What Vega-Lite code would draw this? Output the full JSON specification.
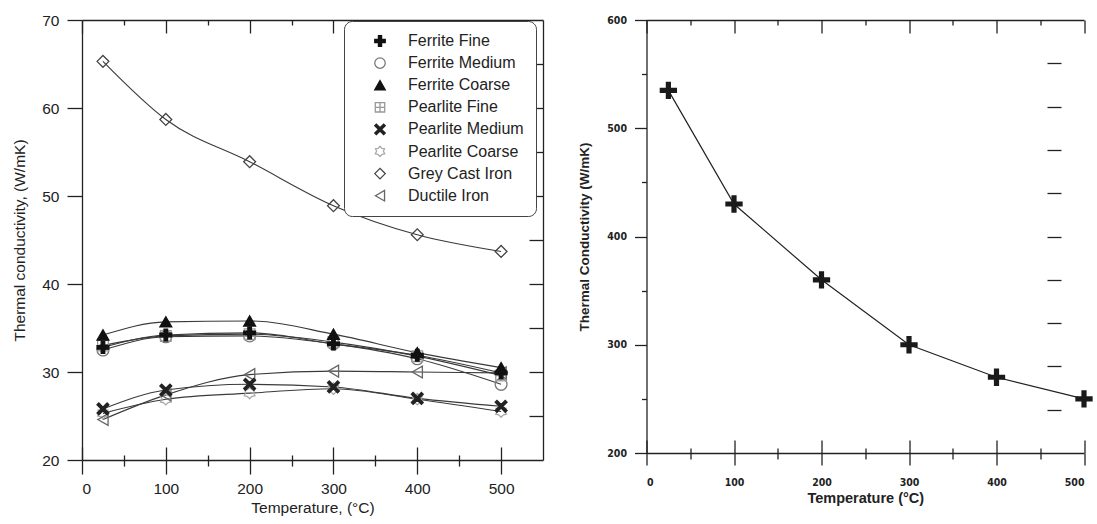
{
  "$schema": "https://vega.github.io/schema/vega-lite/v6.json",
  "padding": {"left": 12, "top": 13, "right": 0, "bottom": 0},
  "spacing": 32.5,
  "background": "white",
  "config": {
    "view": {"stroke": null},
    "font": "Liberation Sans",
    "axis": {"grid": false, "domainColor": "#222", "tickColor": "#222", "labelColor": "#222", "titleColor": "#222", "domainWidth": 1.3, "tickWidth": 1.3}
  },
  "hconcat": [
    {
      "width": 461,
      "height": 440,
      "data": {"values": [
        {"series": "Ferrite Fine", "t": 25, "k": 32.8}, {"series": "Ferrite Fine", "t": 100, "k": 34.2}, {"series": "Ferrite Fine", "t": 200, "k": 34.45}, {"series": "Ferrite Fine", "t": 300, "k": 33.2}, {"series": "Ferrite Fine", "t": 400, "k": 31.9}, {"series": "Ferrite Fine", "t": 500, "k": 29.9},
        {"series": "Ferrite Medium", "t": 25, "k": 32.5}, {"series": "Ferrite Medium", "t": 100, "k": 34.0}, {"series": "Ferrite Medium", "t": 200, "k": 34.1}, {"series": "Ferrite Medium", "t": 300, "k": 33.2}, {"series": "Ferrite Medium", "t": 400, "k": 31.5}, {"series": "Ferrite Medium", "t": 500, "k": 28.6},
        {"series": "Ferrite Coarse", "t": 25, "k": 34.2}, {"series": "Ferrite Coarse", "t": 100, "k": 35.7}, {"series": "Ferrite Coarse", "t": 200, "k": 35.8}, {"series": "Ferrite Coarse", "t": 300, "k": 34.3}, {"series": "Ferrite Coarse", "t": 400, "k": 32.2}, {"series": "Ferrite Coarse", "t": 500, "k": 30.5},
        {"series": "Pearlite Fine", "t": 25, "k": 33.0}, {"series": "Pearlite Fine", "t": 100, "k": 34.1}, {"series": "Pearlite Fine", "t": 200, "k": 34.3}, {"series": "Pearlite Fine", "t": 300, "k": 33.4}, {"series": "Pearlite Fine", "t": 400, "k": 31.8}, {"series": "Pearlite Fine", "t": 500, "k": 29.6},
        {"series": "Pearlite Medium", "t": 25, "k": 25.8}, {"series": "Pearlite Medium", "t": 100, "k": 27.95}, {"series": "Pearlite Medium", "t": 200, "k": 28.6}, {"series": "Pearlite Medium", "t": 300, "k": 28.3}, {"series": "Pearlite Medium", "t": 400, "k": 27.0}, {"series": "Pearlite Medium", "t": 500, "k": 26.1},
        {"series": "Pearlite Coarse", "t": 25, "k": 25.3}, {"series": "Pearlite Coarse", "t": 100, "k": 26.9}, {"series": "Pearlite Coarse", "t": 200, "k": 27.6}, {"series": "Pearlite Coarse", "t": 300, "k": 28.1}, {"series": "Pearlite Coarse", "t": 400, "k": 26.9}, {"series": "Pearlite Coarse", "t": 500, "k": 25.5},
        {"series": "Grey Cast Iron", "t": 25, "k": 65.3}, {"series": "Grey Cast Iron", "t": 100, "k": 58.7}, {"series": "Grey Cast Iron", "t": 200, "k": 53.9}, {"series": "Grey Cast Iron", "t": 300, "k": 48.9}, {"series": "Grey Cast Iron", "t": 400, "k": 45.6}, {"series": "Grey Cast Iron", "t": 500, "k": 43.7},
        {"series": "Ductile Iron", "t": 25, "k": 24.6}, {"series": "Ductile Iron", "t": 100, "k": 27.4}, {"series": "Ductile Iron", "t": 200, "k": 29.7}, {"series": "Ductile Iron", "t": 300, "k": 30.1}, {"series": "Ductile Iron", "t": 400, "k": 30.0}, {"series": "Ductile Iron", "t": 500, "k": 29.9}
      ]},
      "layer": [
        {
          "transform": [{"filter": {"field": "series", "oneOf": ["Ferrite Fine", "Ferrite Medium", "Ferrite Coarse", "Pearlite Fine", "Grey Cast Iron"]}}],
          "mark": {"type": "line", "interpolate": "monotone", "color": "#3a3a3a", "strokeWidth": 1.1},
          "encoding": {
            "x": {"field": "t", "type": "quantitative",
              "scale": {"domain": [0, 550], "nice": false, "zero": false},
              "axis": {"orient": "bottom", "values": [0, 100, 200, 300, 400, 500], "tickSize": 14,
                "grid": true, "gridColor": "#222", "gridWidth": 1.3, "gridOpacity": 1, "gridDash": [13, 427], "gridDashOffset": 13,
                "labelFontSize": 15.5, "labelPadding": 7, "title": "Temperature, (°C)", "titleFontSize": 15.5, "titleFontWeight": "normal", "titlePadding": 4}},
            "y": {"field": "k", "type": "quantitative",
              "scale": {"domain": [20, 70], "nice": false, "zero": false},
              "axis": {"orient": "left", "values": [20, 30, 40, 50, 60, 70], "tickSize": 15, "labelPadding": 8,
                "labelFontSize": 15.5, "title": "Thermal conductivity, (W/mK)", "titleFontSize": 15.5, "titleFontWeight": "normal", "titlePadding": 14}},
            "detail": {"field": "series"}
          }
        },
        {
          "transform": [{"filter": {"field": "series", "oneOf": ["Pearlite Medium", "Pearlite Coarse", "Ductile Iron"]}}],
          "mark": {"type": "line", "interpolate": "monotone", "color": "#3a3a3a", "strokeWidth": 1.1},
          "encoding": {
            "x": {"field": "t", "type": "quantitative",
              "axis": {"orient": "bottom", "values": [50, 150, 250, 350, 450], "tickSize": 6, "labels": false, "domain": false, "title": null,
                "grid": true, "gridColor": "#222", "gridWidth": 1.3, "gridOpacity": 1, "gridDash": [5, 435], "gridDashOffset": 5}},
            "y": {"field": "k", "type": "quantitative",
              "axis": {"orient": "right", "values": [25, 30, 35, 40, 45, 50, 55, 60, 65], "labels": false, "title": null, "tickSize": -14}},
            "detail": {"field": "series"}
          }
        },
        {
          "transform": [{"filter": {"field": "series", "oneOf": ["Ferrite Medium", "Pearlite Fine", "Pearlite Coarse", "Grey Cast Iron", "Ductile Iron"]}}],
          "mark": {"type": "point", "opacity": 1, "size": 140, "strokeWidth": 1.3},
          "encoding": {
            "x": {"field": "t", "type": "quantitative",
              "axis": {"orient": "bottom", "offset": -440, "values": [0, 100, 200, 300, 400, 500], "labels": false, "title": null, "tickSize": 13}},
            "y": {"field": "k", "type": "quantitative", "axis": null},
            "shape": {"field": "series", "type": "nominal",
              "scale": {
                "domain": ["Ferrite Fine", "Ferrite Medium", "Ferrite Coarse", "Pearlite Fine", "Pearlite Medium", "Pearlite Coarse", "Grey Cast Iron", "Ductile Iron"],
                "range": ["M-0.3,-1H0.3V-0.3H1V0.3H0.3V1H-0.3V0.3H-1V-0.3H-0.3Z", "circle", "triangle-up", "M-0.9,-0.9H0.9V0.9H-0.9ZM0,-0.9V0.9M-0.9,0H0.9", "M-1,-0.7L-0.7,-1L0,-0.3L0.7,-1L1,-0.7L0.3,0L1,0.7L0.7,1L0,0.3L-0.7,1L-1,0.7L-0.3,0Z", "M0,-1L0.35,-0.6L0.85,-0.55L0.65,-0.05L0.9,0.45L0.4,0.55L0,0.95L-0.4,0.55L-0.9,0.45L-0.65,-0.05L-0.85,-0.55L-0.35,-0.6Z", "diamond", "triangle-left"]},
              "legend": {"orient": "none", "legendX": 262, "legendY": 1, "title": null, "strokeColor": "#444", "cornerRadius": 8, "padding": 12, "fillColor": "white",
                "labelFontSize": 16, "labelColor": "#222", "symbolSize": 110, "symbolOffset": 16, "labelOffset": 20, "rowPadding": 6.1, "symbolStrokeWidth": 1.3}},
            "fill": {"field": "series", "type": "nominal",
              "scale": {
                "domain": ["Ferrite Fine", "Ferrite Medium", "Ferrite Coarse", "Pearlite Fine", "Pearlite Medium", "Pearlite Coarse", "Grey Cast Iron", "Ductile Iron"],
                "range": ["#111", "transparent", "#111", "transparent", "#222", "transparent", "transparent", "transparent"]}},
            "stroke": {"field": "series", "type": "nominal",
              "scale": {
                "domain": ["Ferrite Fine", "Ferrite Medium", "Ferrite Coarse", "Pearlite Fine", "Pearlite Medium", "Pearlite Coarse", "Grey Cast Iron", "Ductile Iron"],
                "range": ["#111", "#777", "#111", "#999", "#222", "#aaa", "#444", "#666"]}}
          }
        },
        {
          "transform": [{"filter": {"field": "series", "oneOf": ["Ferrite Fine", "Ferrite Coarse", "Pearlite Medium"]}}],
          "mark": {"type": "point", "opacity": 1, "size": 140, "strokeWidth": 1.3},
          "encoding": {
            "x": {"field": "t", "type": "quantitative",
              "axis": {"orient": "bottom", "offset": -440, "values": [50, 150, 250, 350, 450], "labels": false, "title": null, "domain": false, "tickSize": 5}},
            "y": {"field": "k", "type": "quantitative", "axis": null},
            "shape": {"field": "series", "type": "nominal",
              "legend": {"orient": "none", "legendX": 262, "legendY": 1, "title": null, "strokeColor": "#444", "cornerRadius": 8, "padding": 12, "fillColor": "white",
                "labelFontSize": 16, "labelColor": "#222", "symbolSize": 110, "symbolOffset": 16, "labelOffset": 20, "rowPadding": 6.1, "symbolStrokeWidth": 1.3}},
            "fill": {"field": "series", "type": "nominal"},
            "stroke": {"field": "series", "type": "nominal"}
          }
        }
      ],
      "resolve": {"axis": {"x": "independent", "y": "independent"}}
    },
    {
      "width": 437.5,
      "height": 433,
      "data": {"values": [
        {"t": 25, "k": 535}, {"t": 100, "k": 430}, {"t": 200, "k": 360}, {"t": 300, "k": 300}, {"t": 400, "k": 270}, {"t": 500, "k": 250}
      ]},
      "layer": [
        {
          "transform": [{"filter": "datum.t <= 200"}],
          "mark": {"type": "line", "color": "#222", "strokeWidth": 1.2},
          "encoding": {
            "x": {"field": "t", "type": "quantitative",
              "scale": {"domain": [0, 500], "nice": false, "zero": false},
              "axis": {"orient": "bottom", "values": [0, 100, 200, 300, 400, 500], "tickSize": 12,
                "grid": true, "gridColor": "#222", "gridWidth": 1.3, "gridOpacity": 1, "gridDash": [13, 420], "gridDashOffset": 13,
                "labelFont": "Liberation Sans Narrow, DejaVu Sans Condensed, Liberation Sans", "labelFontWeight": "bold", "labelFontSize": 10.5, "labelPadding": 12,
                "title": "Temperature (°C)", "titleFontSize": 14.5, "titleFontWeight": "bold", "titlePadding": 4}},
            "y": {"field": "k", "type": "quantitative",
              "scale": {"domain": [200, 600], "nice": false, "zero": false},
              "axis": {"orient": "left", "values": [200, 300, 400, 500, 600], "tickSize": 12,
                "labelFont": "Liberation Sans Narrow, DejaVu Sans Condensed, Liberation Sans", "labelFontWeight": "bold", "labelFontSize": 10.5, "labelPadding": 8,
                "title": "Thermal Conductivity (W/mK)", "titleFontSize": 13.5, "titleFontWeight": "bold", "titlePadding": 15.5}}
          }
        },
        {
          "transform": [{"filter": "datum.t >= 200"}],
          "mark": {"type": "line", "color": "#222", "strokeWidth": 1.2},
          "encoding": {
            "x": {"field": "t", "type": "quantitative",
              "axis": {"orient": "bottom", "values": [50, 150, 250, 350, 450], "tickSize": 6, "labels": false, "domain": false, "title": null,
                "grid": true, "gridColor": "#222", "gridWidth": 1.3, "gridOpacity": 1, "gridDash": [5, 428], "gridDashOffset": 5}},
            "y": {"field": "k", "type": "quantitative",
              "axis": {"orient": "left", "values": [250, 350, 450, 550], "tickSize": 5, "labels": false, "domain": false, "title": null}}
          }
        },
        {
          "transform": [{"filter": "datum.t <= 200"}],
          "mark": {"type": "point", "shape": "M-0.3,-1H0.3V-0.3H1V0.3H0.3V1H-0.3V0.3H-1V-0.3H-0.3Z", "filled": true, "color": "#1a1a1a", "opacity": 1, "size": 300},
          "encoding": {
            "x": {"field": "t", "type": "quantitative",
              "axis": {"orient": "bottom", "offset": -433, "values": [0, 100, 200, 300, 400, 500], "labels": false, "title": null, "tickSize": 13}},
            "y": {"field": "k", "type": "quantitative",
              "axis": {"orient": "right", "values": [240, 280, 320, 360, 400, 440, 480, 520, 560], "labels": false, "title": null, "domain": false, "offset": -37, "tickSize": 14}}
          }
        },
        {
          "transform": [{"filter": "datum.t > 200"}],
          "mark": {"type": "point", "shape": "M-0.3,-1H0.3V-0.3H1V0.3H0.3V1H-0.3V0.3H-1V-0.3H-0.3Z", "filled": true, "color": "#1a1a1a", "opacity": 1, "size": 300},
          "encoding": {
            "x": {"field": "t", "type": "quantitative",
              "axis": {"orient": "bottom", "offset": -433, "values": [50, 150, 250, 350, 450], "labels": false, "title": null, "domain": false, "tickSize": 5}},
            "y": {"field": "k", "type": "quantitative", "axis": null}
          }
        }
      ],
      "resolve": {"axis": {"x": "independent", "y": "independent"}}
    }
  ]
}
